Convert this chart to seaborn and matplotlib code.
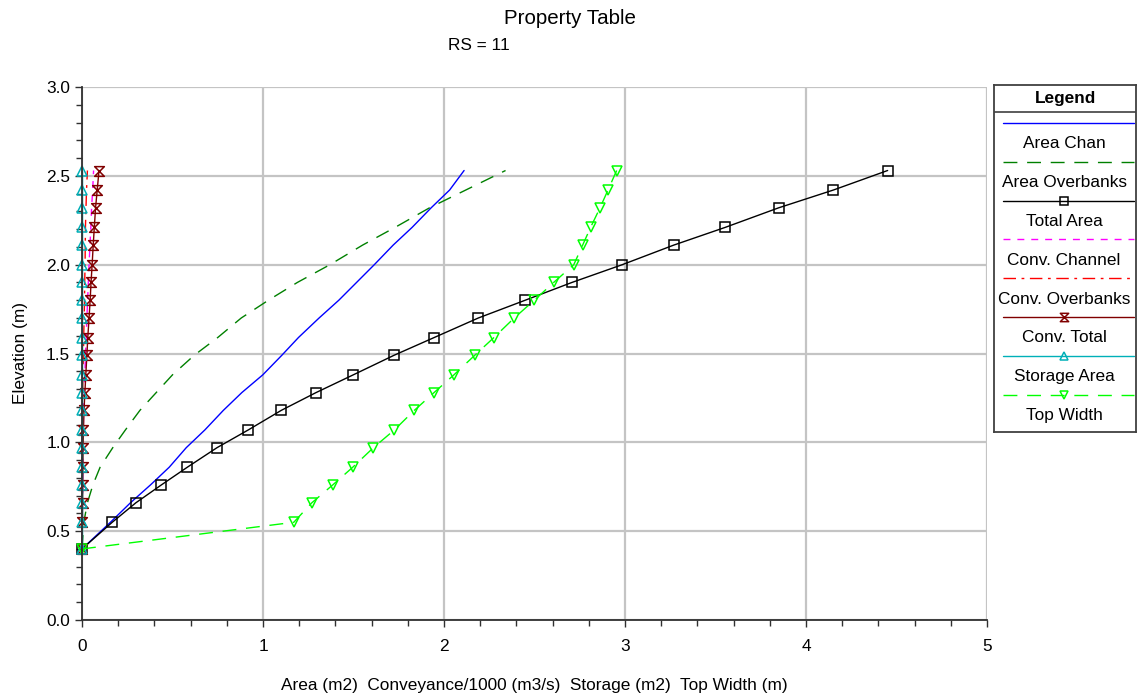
import matplotlib
matplotlib.use("Agg")
import matplotlib.pyplot as plt
import seaborn as sns
from matplotlib.lines import Line2D
from matplotlib.path import Path
from matplotlib.ticker import MultipleLocator, FormatStrFormatter

# ---- property table values (RS = 11) ----
elevation = [0.40, 0.55, 0.66, 0.76, 0.86, 0.97, 1.07, 1.18, 1.28, 1.38, 1.49,
             1.59, 1.70, 1.80, 1.90, 2.00, 2.11, 2.21, 2.32, 2.42, 2.53]
area_chan = [0.0, 0.157, 0.268, 0.378, 0.482, 0.576, 0.679, 0.781, 0.883, 0.999,
             1.104, 1.196, 1.310, 1.419, 1.517, 1.615, 1.719, 1.824, 1.929, 2.031, 2.111]
area_overbanks = [0.0, 0.01, 0.03, 0.06, 0.10, 0.17, 0.24, 0.32, 0.41, 0.50, 0.62,
                  0.75, 0.88, 1.03, 1.19, 1.37, 1.55, 1.73, 1.92, 2.12, 2.34]
total_area = [0.0, 0.167, 0.298, 0.438, 0.582, 0.746, 0.919, 1.101, 1.293, 1.499,
              1.724, 1.946, 2.190, 2.449, 2.707, 2.985, 3.269, 3.554, 3.849, 4.151, 4.451]
conv_channel = [0.0, 0.002, 0.003, 0.004, 0.005, 0.006, 0.007, 0.009, 0.012, 0.016,
                0.019, 0.023, 0.027, 0.031, 0.035, 0.039, 0.044, 0.049, 0.053, 0.059, 0.064]
conv_overbanks = [0.0, 0.0, 0.0, 0.0, 0.0, 0.0, 0.001, 0.002, 0.004, 0.005, 0.008,
                  0.009, 0.012, 0.014, 0.015, 0.017, 0.018, 0.019, 0.022, 0.025, 0.030]
conv_total = [0.0, 0.002, 0.003, 0.004, 0.005, 0.006, 0.008, 0.011, 0.016, 0.021,
              0.027, 0.032, 0.039, 0.045, 0.050, 0.056, 0.062, 0.068, 0.075, 0.084, 0.094]
storage_area = [0.0, 0.0, 0.0, 0.0, 0.0, 0.0, 0.0, 0.0, 0.0, 0.0, 0.0,
                0.0, 0.0, 0.0, 0.0, 0.0, 0.0, 0.0, 0.0, 0.0, 0.0]
top_width = [0.0, 1.17, 1.27, 1.385, 1.496, 1.61, 1.726, 1.836, 1.945, 2.055, 2.17,
             2.276, 2.388, 2.499, 2.606, 2.717, 2.766, 2.81, 2.862, 2.906, 2.954]

series_names = ["Area Chan", "Area Overbanks", "Total Area", "Conv. Channel",
                "Conv. Overbanks", "Conv. Total", "Storage Area", "Top Width"]
series_values = [area_chan, area_overbanks, total_area, conv_channel,
                 conv_overbanks, conv_total, storage_area, top_width]

sns.set_theme(style="white")
plt.rcParams["font.family"] = ["Liberation Sans", "DejaVu Sans"]
plt.rcParams["text.color"] = "black"
plt.rcParams["axes.labelcolor"] = "black"

FS = 12.4

hourglass = Path([(-1, 1), (1, 1), (-1, -1), (1, -1), (-1, 1)],
                 [Path.MOVETO, Path.LINETO, Path.LINETO, Path.LINETO, Path.CLOSEPOLY])

styles = [
    dict(color="#0000ff", ls="-", marker=None, ms=0),
    dict(color="#008000", ls=(0, (10, 7)), marker=None, ms=0),
    dict(color="#000000", ls="-", marker="s", ms=7),
    dict(color="#ff00ff", ls=(0, (5, 5)), marker=None, ms=0),
    dict(color="#ff0000", ls=(0, (9, 4, 2, 4)), marker=None, ms=0),
    dict(color="#800000", ls="-", marker=hourglass, ms=7),
    dict(color="#00b0b8", ls="-", marker="^", ms=7),
    dict(color="#00ff00", ls=(0, (10, 7)), marker="v", ms=7),
]

W, H = 1137, 693
fig = plt.figure(figsize=(W / 100, H / 100), dpi=100)
ax = fig.add_axes([82 / W, 1 - 620 / H, (987 - 82) / W, (620 - 87) / H])

for vals, st in zip(series_values, styles):
    sns.lineplot(x=vals, y=elevation, sort=False, estimator=None, ax=ax,
                 color=st["color"], linewidth=1.0)
    ln = ax.lines[-1]
    ln.set_linestyle(st["ls"])
    ln.set_clip_on(False)
    if st["marker"] is not None:
        ln.set_marker(st["marker"])
        ln.set_markersize(st["ms"])
        ln.set_markerfacecolor("none")
        ln.set_markeredgecolor(st["color"])
        ln.set_markeredgewidth(1.1)

ax.set_xlim(0, 5)
ax.set_ylim(0, 3.0)
ax.xaxis.set_major_locator(MultipleLocator(1))
ax.xaxis.set_minor_locator(MultipleLocator(0.2))
ax.yaxis.set_major_locator(MultipleLocator(0.5))
ax.yaxis.set_minor_locator(MultipleLocator(0.1))
ax.yaxis.set_major_formatter(FormatStrFormatter("%.1f"))
ax.xaxis.set_major_formatter(FormatStrFormatter("%d"))
ax.grid(True, which="major", color="#c4c4c4", linewidth=1.6)
ax.set_axisbelow(True)
ax.tick_params(which="both", direction="out", colors="#303030", labelcolor="black",
               labelsize=FS, bottom=True, left=True)
ax.tick_params(which="major", length=5, width=1)
ax.tick_params(which="minor", length=4, width=1)
ax.tick_params(axis="x", pad=9)
for side in ["top", "right"]:
    ax.spines[side].set_visible(False)
for side in ["left", "bottom"]:
    ax.spines[side].set_color("#303030")
    ax.spines[side].set_linewidth(1.3)

ax.set_xlabel("Area (m2)  Conveyance/1000 (m3/s)  Storage (m2)  Top Width (m)",
              fontsize=FS, labelpad=17)
ax.set_ylabel("Elevation (m)", fontsize=FS, labelpad=13)

fig.text(570 / W, 1 - 18 / H, "Property Table", ha="center", va="center", fontsize=14.8)
fig.text(479 / W, 1 - 46 / H, "RS = 11", ha="center", va="center", fontsize=FS)

# ---- boxed legend on the right ----
lx0, lx1, ly0, ly1 = 994, 1136, 85, 432
lax = fig.add_axes([lx0 / W, 1 - ly1 / H, (lx1 - lx0) / W, (ly1 - ly0) / H])
lax.set_xlim(lx0, lx1)
lax.set_ylim(ly1, ly0)
lax.set_xticks([])
lax.set_yticks([])
for sp in lax.spines.values():
    sp.set_color("#404040")
    sp.set_linewidth(1.3)
lax.text((lx0 + lx1) / 2, 99, "Legend", ha="center", va="center",
         fontsize=FS, fontweight="bold")
lax.plot([lx0, lx1], [112, 112], color="#404040", lw=1.2)
line_y0, text_y0, step = 123, 144, 38.8
cx = (lx0 + lx1) / 2 - 1
for i, (name, st) in enumerate(zip(series_names, styles)):
    yl = line_y0 + i * step
    yt = text_y0 + i * step
    lax.add_line(Line2D([1003, 1134], [yl, yl], color=st["color"], lw=1.0,
                        linestyle=st["ls"]))
    if st["marker"] is not None:
        lax.add_line(Line2D([cx], [yl], marker=st["marker"], ms=st["ms"] - 1,
                            mfc="none", mec=st["color"], mew=1.1, linestyle="none"))
    lax.text(cx, yt, name, ha="center", va="center", fontsize=FS)

fig.savefig("out.png", dpi=100)
